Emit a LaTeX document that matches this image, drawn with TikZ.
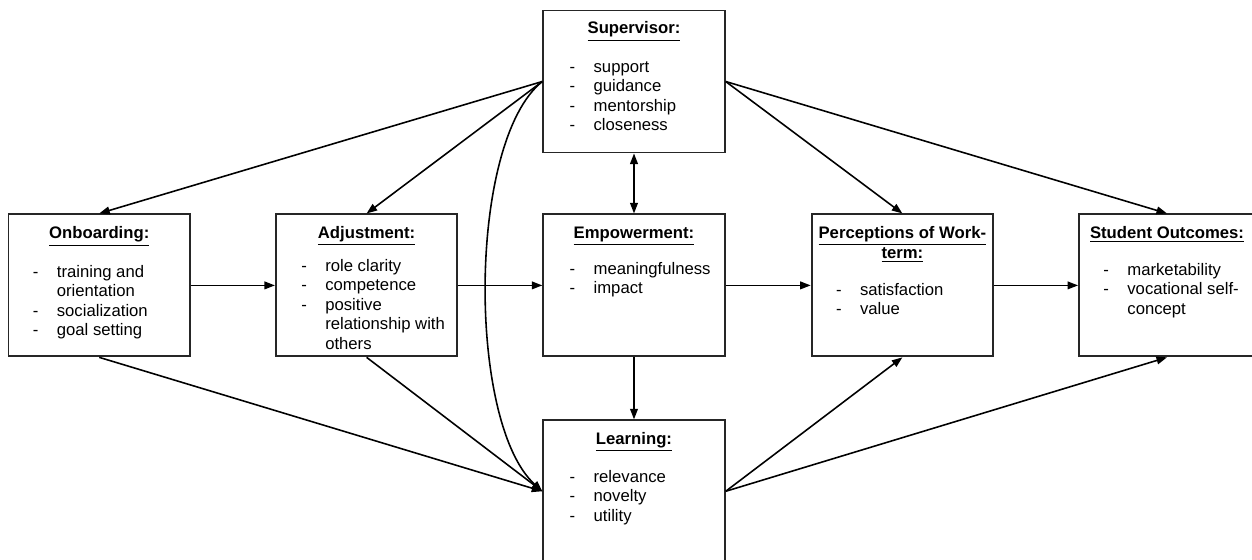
\documentclass[tikz,border=0pt]{standalone}
\usepackage{fontspec}
\setmainfont{Liberation Sans}
\usetikzlibrary{arrows.meta, positioning}
\newcommand{\boxfont}{\fontsize{9.5}{11.05}\selectfont}
\newcommand{\itemrows}[1]{\begin{tabular}[t]{@{}p{0.48cm}@{}l@{}}#1\end{tabular}}
\tikzset{
    blockbox/.style={
        rectangle,
        draw=black!85,
        line width=1.1pt,
        minimum width=3.63cm,
        minimum height=2.84cm,
        inner sep=0pt
    },
    blocktitle/.style={
        inner sep=0pt,
        align=center,
        font=\boxfont\bfseries
    },
    blocklist/.style={
        inner sep=0pt,
        anchor=base west,
        font=\boxfont
    },
    linkarrow/.style={
        -{Triangle[length=6pt, width=4.4pt]},
        line width=0.9pt,
        draw=black
    },
    linkboth/.style={
        {Triangle[length=6pt, width=4.4pt]}-{Triangle[length=6pt, width=4.4pt]},
        line width=0.9pt,
        draw=black
    }
}

\begin{document}
\begin{tikzpicture}[x=0.02cm, y=-0.02cm, node distance=1.2cm and 1.68cm]
    \useasboundingbox (0,0) rectangle (1252,559);

    % boxes
    \node[blockbox] (sup) at (634,81.5) {};
    \node[blockbox, below=1.2cm of sup] (emp) {};
    \node[blockbox, below=1.24cm of emp] (lrn) {};
    \node[blockbox, left=of emp] (adj) {};
    \node[blockbox, left=of adj] (onb) {};
    \node[blockbox, right=1.7cm of emp] (prc) {};
    \node[blockbox, right=of prc, minimum width=3.52cm] (stu) {};

    % titles
    \node[blocktitle, below=0.24cm of sup.north] (suptitle) {\underline{Supervisor:}};
    \node[blocktitle, below=0.26cm of onb.north] (onbtitle) {\underline{Onboarding:}};
    \node[blocktitle, below=0.26cm of adj.north] (adjtitle) {\underline{Adjustment:}};
    \node[blocktitle, below=0.26cm of emp.north] (emptitle) {\underline{Empowerment:}};
    \node[blocktitle, below=0.26cm of prc.north] (prctitle) {\underline{Perceptions of Work-}\\\underline{term:}};
    \node[blocktitle, below=0.26cm of stu.north] (stutitle) {\underline{Student Outcomes:}};
    \node[blocktitle, below=0.26cm of lrn.north] (lrntitle) {\underline{Learning:}};

    % item lists
    \node[blocklist] (suplist) at ([shift={(0.54cm,-1.26cm)}]sup.north west)
        {\itemrows{- & support\\ - & guidance\\ - & mentorship\\ - & closeness}};
    \node[blocklist] (onblist) at ([shift={(0.5cm,-1.28cm)}]onb.north west)
        {\itemrows{- & training and\\ & orientation\\ - & socialization\\ - & goal setting}};
    \node[blocklist] (adjlist) at ([shift={(0.52cm,-1.16cm)}]adj.north west)
        {\itemrows{- & role clarity\\ - & competence\\ - & positive\\ & relationship with\\ & others}};
    \node[blocklist] (emplist) at ([shift={(0.54cm,-1.22cm)}]emp.north west)
        {\itemrows{- & meaningfulness\\ - & impact}};
    \node[blocklist] (prclist) at ([shift={(0.5cm,-1.64cm)}]prc.north west)
        {\itemrows{- & satisfaction\\ - & value}};
    \node[blocklist] (stulist) at ([shift={(0.5cm,-1.24cm)}]stu.north west)
        {\itemrows{- & marketability\\ - & vocational self-\\ & concept}};
    \node[blocklist] (lrnlist) at ([shift={(0.54cm,-1.26cm)}]lrn.north west)
        {\itemrows{- & relevance\\ - & novelty\\ - & utility}};

    % connectors
    \draw[linkarrow] (sup.west) -- (onb.north);
    \draw[linkarrow] (sup.west) -- (adj.north);
    \draw[linkarrow] (sup.west) .. controls +(-75,60) and +(-75,-68) .. (lrn.west);
    \draw[linkarrow] (sup.east) -- (prc.north);
    \draw[linkarrow] (sup.east) -- (stu.north);
    \draw[linkboth] (sup.south) -- (emp.north);
    \draw[linkarrow] (emp.south) -- (lrn.north);

    \draw[linkarrow] (onb.east) -- (adj.west);
    \draw[linkarrow] (adj.east) -- (emp.west);
    \draw[linkarrow] (emp.east) -- (prc.west);
    \draw[linkarrow] (prc.east) -- (stu.west);

    \draw[linkarrow] (onb.south) -- (lrn.west);
    \draw[linkarrow] (adj.south) -- (lrn.west);
    \draw[linkarrow] (lrn.east) -- (prc.south);
    \draw[linkarrow] (lrn.east) -- (stu.south);
\end{tikzpicture}
\end{document}
